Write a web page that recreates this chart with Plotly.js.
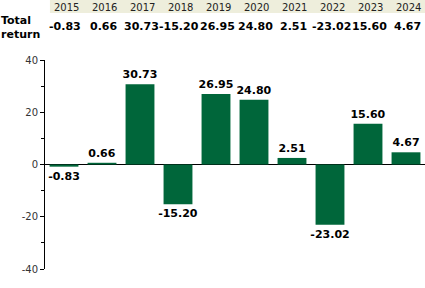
<!DOCTYPE html>
<html>
<head>
<meta charset="utf-8">
<script src="https://cdn.plot.ly/plotly-3.0.1.min.js"></script>
<style>
html,body{margin:0;padding:0;background:#fff;}
#chart{width:425px;height:288px;}
</style>
</head>
<body>
<div id="chart"></div>
<script>
const years = ["2015","2016","2017","2018","2019","2020","2021","2022","2023","2024"];
const totalReturn = [-0.83, 0.66, 30.73, -15.20, 26.95, 24.80, 2.51, -23.02, 15.60, 4.67];
const rowLabel = "Total<br>return";
const yTickVals = [-40, -20, 0, 20, 40];

const fontFam = "DejaVu Sans, Verdana, sans-serif";

const annotations = [];
years.forEach((y, i) => {
  annotations.push({
    xref: "x", yref: "paper", x: i, y: 1.253, text: y, showarrow: false,
    xanchor: "center", yanchor: "middle", xshift: 2,
    font: {family: fontFam, size: 10, color: "#222"}
  });
  annotations.push({
    xref: "x", yref: "paper", x: i, y: 1.158, text: totalReturn[i].toFixed(2), showarrow: false,
    xanchor: "center", yanchor: "middle", xshift: 1,
    font: {family: fontFam, size: 11, color: "#000", weight: "bold"}
  });
});
annotations.push({
  xref: "paper", yref: "paper", x: 0, y: 1.155, xshift: -46, text: "<b>" + rowLabel + "</b>",
  showarrow: false, xanchor: "left", yanchor: "middle", align: "left",
  font: {family: fontFam, size: 11, color: "#000"}
});

const trace = {
  type: "bar",
  x: years,
  y: totalReturn,
  marker: {color: "#00663a", line: {width: 0}},
  width: 0.76,
  text: totalReturn.map(v => v.toFixed(2)),
  textposition: "outside",
  constraintext: "none",
  cliponaxis: false,
  textfont: {family: fontFam, size: 11, color: "#000", weight: "bold"},
  hoverinfo: "skip"
};

const layout = {
  width: 425, height: 288,
  margin: {l: 45, r: 0, t: 60, b: 19, pad: 0},
  paper_bgcolor: "#fff", plot_bgcolor: "#fff",
  showlegend: false,
  bargap: 0.24,
  xaxis: {
    type: "category", range: [-0.5, 9.5],
    showticklabels: false, ticks: "", showgrid: false, zeroline: false, showline: false, fixedrange: true
  },
  yaxis: {
    range: [-40, 40], tickvals: yTickVals, ticktext: yTickVals.map(String),
    ticks: "outside", ticklen: 4, tickcolor: "#000", tickwidth: 1,
    minor: {dtick: 10, ticks: "outside", ticklen: 3, tickcolor: "#000", showgrid: false},
    showline: true, linecolor: "#000", linewidth: 1,
    showgrid: false, zeroline: true, zerolinecolor: "#000", zerolinewidth: 1,
    tickfont: {family: fontFam, size: 10, color: "#333"}, fixedrange: true
  },
  shapes: [{
    type: "rect", xref: "paper", yref: "paper",
    x0: 0.013, x1: 1, y0: 1.225, y1: 1.288,
    fillcolor: "#eeeedc", line: {width: 0}, layer: "below"
  }],
  annotations: annotations
};

Plotly.newPlot("chart", [trace], layout, {displayModeBar: false, staticPlot: true});
</script>
</body>
</html>
